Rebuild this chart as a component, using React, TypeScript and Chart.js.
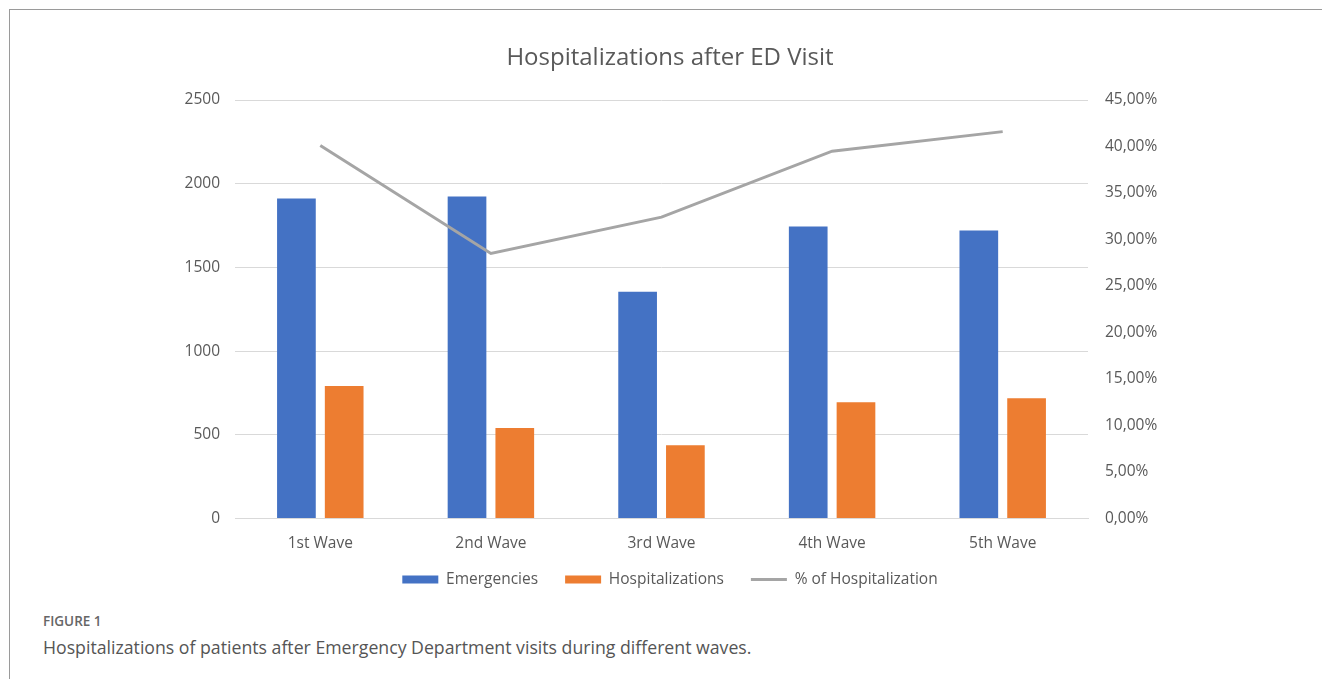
import React, { useEffect, useRef } from 'react';
import { Chart, registerables } from 'chart.js';

Chart.register(...registerables);

const categories = ['1st Wave', '2nd Wave', '3rd Wave', '4th Wave', '5th Wave'];
const emergencies = [1912, 1924, 1355, 1745, 1721];
const hospitalizations = [791, 540, 438, 695, 719];
const pctHospitalization = [40.1, 28.5, 32.4, 39.5, 41.6];
const seriesNames = ['Emergencies', 'Hospitalizations', '% of Hospitalization'];
const chartTitle = 'Hospitalizations after ED Visit';
const figureLabel = 'FIGURE 1';
const figureCaption = 'Hospitalizations of patients after Emergency Department visits during different waves.';

const FONT = '"Open Sans", "Noto Sans", sans-serif';
const TEXT = '#595959';
const TICK_SIZE = 15.5;

const legendShift = {
  id: 'legendShift',
  afterLayout(chart: any) {
    const lg = chart.legend;
    if (lg) {
      lg.top -= 13.75;
      lg.bottom -= 13.75;
    }
  },
};

export default function App() {
  const ref = useRef<HTMLCanvasElement | null>(null);

  useEffect(() => {
    document.body.style.margin = '0';
    const canvas = ref.current;
    if (!canvas) return;
    const chart = new Chart(canvas, {
      type: 'bar',
      data: {
        labels: categories,
        datasets: [
          {
            type: 'bar',
            label: seriesNames[0],
            data: emergencies,
            backgroundColor: '#4472C4',
            borderWidth: 0,
            yAxisID: 'y',
            order: 1,
            categoryPercentage: 0.56,
            barPercentage: 0.81,
          },
          {
            type: 'bar',
            label: seriesNames[1],
            data: hospitalizations,
            backgroundColor: '#ED7D31',
            borderWidth: 0,
            yAxisID: 'y',
            order: 1,
            categoryPercentage: 0.56,
            barPercentage: 0.81,
          },
          {
            type: 'line',
            label: seriesNames[2],
            data: pctHospitalization,
            borderColor: '#A5A5A5',
            backgroundColor: '#A5A5A5',
            borderWidth: 3,
            pointRadius: 0,
            tension: 0,
            yAxisID: 'y1',
            order: 0,
          },
        ],
      },
      plugins: [legendShift],
      options: {
        animation: false,
        responsive: false,
        maintainAspectRatio: false,
        layout: { padding: { top: 0, left: 0, right: 0, bottom: 0 } },
        plugins: {
          tooltip: { enabled: false },
          title: {
            display: true,
            text: chartTitle,
            color: TEXT,
            font: { family: FONT, size: 24, weight: 'normal' },
            padding: { top: 23.6, bottom: 27.6 },
          },
          legend: {
            display: true,
            position: 'bottom',
            labels: {
              color: TEXT,
              font: { family: FONT, size: TICK_SIZE },
              padding: 27,
              usePointStyle: true,
              pointStyleWidth: 36,
              boxHeight: 8,
              sort: (a: any, b: any) => a.datasetIndex - b.datasetIndex,
              generateLabels: (c: any) => {
                const items = Chart.defaults.plugins.legend.labels.generateLabels(c);
                return items.map((it: any) => ({
                  ...it,
                  pointStyle: it.datasetIndex === 2 ? 'line' : 'rect',
                  lineWidth: it.datasetIndex === 2 ? 3 : 0,
                  lineCap: 'butt',
                }));
              },
            },
          },
        },
        scales: {
          x: {
            grid: { display: false },
            border: { display: true, color: '#D9D9D9', width: 1 },
            ticks: { color: TEXT, font: { family: FONT, size: TICK_SIZE }, padding: 8 },
            afterFit: (s: any) => { s.height = 40; },
          },
          y: {
            position: 'left',
            min: 0,
            max: 2500,
            ticks: {
              stepSize: 500,
              color: TEXT,
              font: { family: FONT, size: TICK_SIZE },
              padding: 15,
              callback: (v: any) => String(v),
            },
            grid: { color: '#D9D9D9', lineWidth: 1, drawTicks: false },
            border: { display: false },
            afterFit: (s: any) => { s.width = 75; },
          },
          y1: {
            position: 'right',
            min: 0,
            max: 45,
            ticks: {
              stepSize: 5,
              color: TEXT,
              font: { family: FONT, size: TICK_SIZE },
              padding: 17,
              callback: (v: any) => Number(v).toFixed(2).replace('.', ',') + '%',
            },
            grid: { display: false, drawTicks: false },
            border: { display: false },
            afterFit: (s: any) => { s.width = 92; },
          },
        },
      },
    });
    return () => chart.destroy();
  }, []);

  return (
    <div style={{ position: 'relative', width: 1322, height: 679, background: '#fff', overflow: 'hidden', fontFamily: FONT }}>
      <div
        style={{
          position: 'absolute',
          left: 9,
          top: 9,
          right: 0,
          bottom: 0,
          borderTop: '1.5px solid #9a9a9a',
          borderLeft: '1.5px solid #9a9a9a',
        }}
      />
      <canvas
        ref={ref}
        width={1020}
        height={591}
        style={{ position: 'absolute', left: 160, top: 20, width: 1020, height: 591 }}
      />
      <div
        style={{
          position: 'absolute',
          left: 43,
          top: 612,
          fontSize: 13.5,
          fontWeight: 600,
          lineHeight: '19px',
          color: '#666',
          whiteSpace: 'nowrap',
        }}
      >
        {figureLabel}
      </div>
      <div style={{ position: 'absolute', left: 43, top: 635, fontSize: 17.7, lineHeight: '24px', color: '#555', whiteSpace: 'nowrap' }}>
        {figureCaption}
      </div>
    </div>
  );
}
